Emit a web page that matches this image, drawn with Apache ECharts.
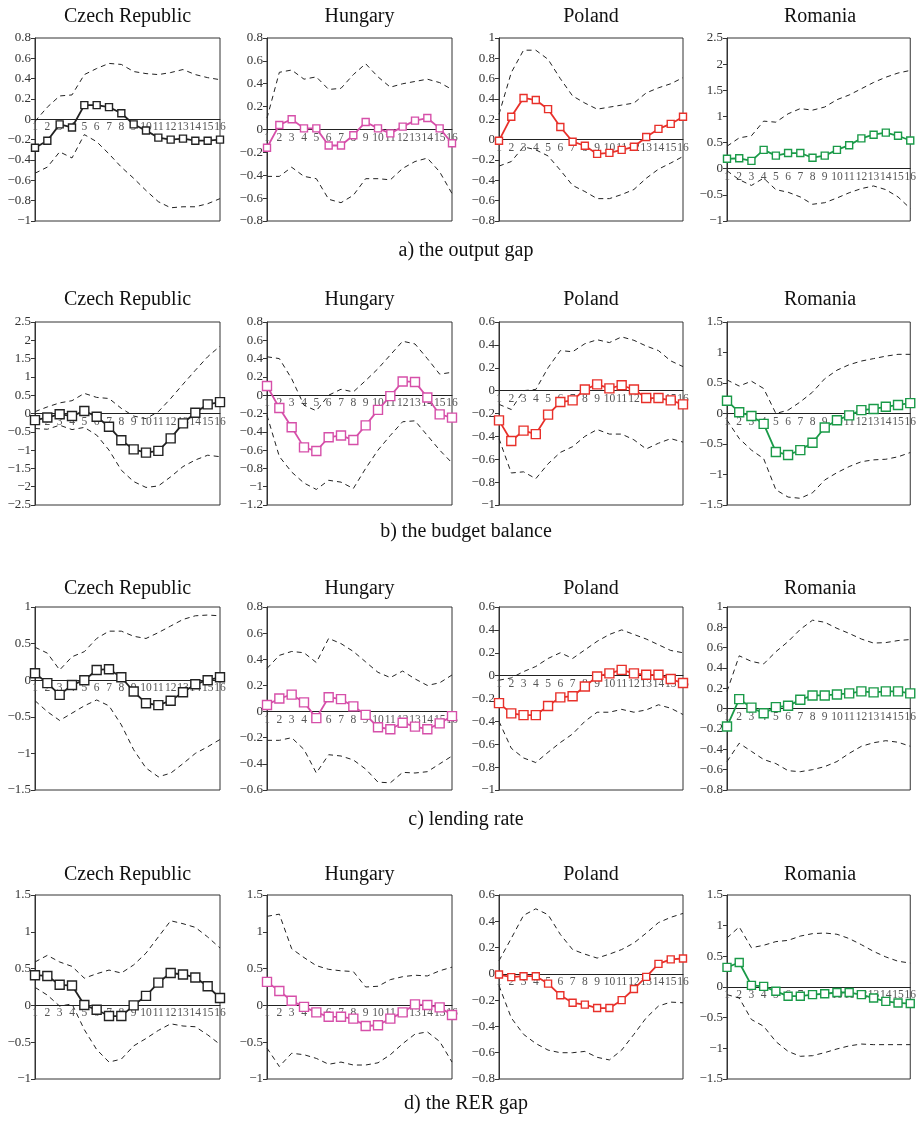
<!DOCTYPE html>
<html><head><meta charset="utf-8">
<script src="https://cdn.jsdelivr.net/npm/echarts@6/dist/echarts.min.js"></script>
<style>html,body{margin:0;padding:0;background:#fff}#c{width:919px;height:1122px}</style>
</head><body><div id="c"></div>
<script>
const periods = ['1','2','3','4','5','6','7','8','9','10','11','12','13','14','15','16'];
const countries = ['Czech Republic','Hungary','Poland','Romania'];
const captions = ['a) the output gap','b) the budget balance','c) lending rate','d) the RER gap'];
const countryColors = ['#222222','#d64fa9','#e8302a','#1a9a48'];

// y-axis ranges [min, max, step] per row (outer) and country (inner)
const yMin = [[-1,-0.8,-0.8,-1],[-2.5,-1.2,-1,-1.5],[-1.5,-0.6,-1,-0.8],[-1,-1,-0.8,-1.5]];
const yMax = [[0.8,0.8,1,2.5],[2.5,0.8,0.6,1.5],[1,0.8,0.6,1],[1.5,1.5,0.6,1.5]];
const yStep = [[0.2,0.2,0.2,0.5],[0.5,0.2,0.2,0.5],[0.5,0.2,0.2,0.2],[0.5,0.5,0.2,0.5]];

// a) output gap
const czOutMid = [-0.28,-0.21,-0.05,-0.08,0.14,0.14,0.12,0.06,-0.05,-0.11,-0.18,-0.2,-0.19,-0.21,-0.21,-0.2];
const czOutUp  = [-0.02,0.12,0.23,0.24,0.44,0.5,0.55,0.54,0.47,0.45,0.44,0.46,0.49,0.44,0.41,0.39];
const czOutLo  = [-0.53,-0.47,-0.32,-0.38,-0.15,-0.22,-0.34,-0.47,-0.58,-0.7,-0.81,-0.87,-0.86,-0.86,-0.83,-0.78];
const huOutMid = [-0.16,0.04,0.09,0.01,0.01,-0.14,-0.14,-0.05,0.066,0.01,-0.034,0.025,0.078,0.1,0.01,-0.12];
const huOutUp  = [0.1,0.5,0.52,0.44,0.46,0.35,0.36,0.48,0.575,0.46,0.37,0.4,0.42,0.44,0.41,0.35];
const huOutLo  = [-0.41,-0.41,-0.33,-0.41,-0.43,-0.61,-0.64,-0.575,-0.43,-0.43,-0.44,-0.34,-0.28,-0.25,-0.37,-0.56];
const plOutMid = [-0.01,0.225,0.41,0.39,0.3,0.125,-0.02,-0.06,-0.14,-0.13,-0.1,-0.07,0.026,0.106,0.155,0.225];
const plOutUp  = [0.25,0.66,0.88,0.88,0.79,0.6,0.43,0.36,0.3,0.32,0.34,0.36,0.46,0.51,0.55,0.61];
const plOutLo  = [-0.26,-0.215,-0.07,-0.1,-0.16,-0.3,-0.45,-0.51,-0.58,-0.58,-0.54,-0.49,-0.38,-0.29,-0.23,-0.165];
const roOutMid = [0.19,0.2,0.15,0.36,0.25,0.3,0.3,0.21,0.25,0.36,0.45,0.58,0.65,0.69,0.63,0.54];
const roOutUp  = [0.43,0.59,0.63,0.91,0.89,1.05,1.15,1.12,1.18,1.32,1.41,1.53,1.65,1.75,1.83,1.88];
const roOutLo  = [-0.04,-0.21,-0.32,-0.18,-0.4,-0.45,-0.54,-0.68,-0.65,-0.56,-0.46,-0.38,-0.33,-0.4,-0.54,-0.76];

// b) budget balance
const czBudMid = [-0.18,-0.11,-0.02,-0.07,0.07,-0.09,-0.36,-0.73,-0.98,-1.07,-1.02,-0.68,-0.27,0.02,0.25,0.31];
const czBudUp  = [0.05,0.18,0.29,0.35,0.55,0.44,0.41,0.14,-0.07,-0.14,0.05,0.41,0.8,1.18,1.55,1.84];
const czBudLo  = [-0.41,-0.43,-0.32,-0.44,-0.38,-0.59,-1.0,-1.55,-1.86,-2.02,-1.98,-1.73,-1.45,-1.27,-1.14,-1.18];
const huBudMid = [0.1,-0.14,-0.35,-0.57,-0.61,-0.46,-0.44,-0.49,-0.33,-0.16,-0.01,0.15,0.145,-0.025,-0.21,-0.245];
const huBudUp  = [0.42,0.4,0.18,-0.11,-0.17,0,0.065,0.036,0.16,0.29,0.44,0.59,0.56,0.4,0.23,0.25];
const huBudLo  = [-0.22,-0.67,-0.84,-0.96,-1.03,-0.93,-0.95,-1.02,-0.8,-0.6,-0.44,-0.29,-0.28,-0.44,-0.6,-0.74];
const plBudMid = [-0.26,-0.44,-0.35,-0.38,-0.21,-0.1,-0.085,0.01,0.055,0.02,0.047,0.01,-0.065,-0.065,-0.085,-0.12];
const plBudUp  = [-0.12,-0.165,0,0.01,0.2,0.35,0.34,0.41,0.445,0.42,0.47,0.44,0.39,0.35,0.26,0.21];
const plBudLo  = [-0.42,-0.72,-0.71,-0.77,-0.64,-0.54,-0.49,-0.4,-0.34,-0.38,-0.38,-0.43,-0.51,-0.46,-0.42,-0.45];
const roBudMid = [0.21,0.02,-0.04,-0.17,-0.63,-0.68,-0.6,-0.48,-0.23,-0.11,-0.03,0.055,0.075,0.11,0.14,0.17];
const roBudUp  = [0.55,0.45,0.53,0.41,0,0.055,0.19,0.35,0.57,0.71,0.8,0.86,0.9,0.94,0.97,0.97];
const roBudLo  = [-0.11,-0.41,-0.6,-0.74,-1.25,-1.37,-1.39,-1.3,-1.09,-0.97,-0.87,-0.79,-0.76,-0.75,-0.71,-0.64];

// c) lending rate
const czLenMid = [0.095,-0.04,-0.2,-0.065,0,0.14,0.15,0.04,-0.155,-0.315,-0.34,-0.28,-0.165,-0.055,0,0.04];
const czLenUp  = [0.45,0.37,0.14,0.32,0.39,0.57,0.67,0.67,0.6,0.57,0.65,0.74,0.83,0.88,0.89,0.88];
const czLenLo  = [-0.28,-0.43,-0.55,-0.45,-0.35,-0.27,-0.35,-0.61,-0.95,-1.2,-1.32,-1.27,-1.14,-1.0,-0.91,-0.81];
const huLenMid = [0.05,0.1,0.13,0.07,-0.05,0.11,0.095,0.04,-0.025,-0.12,-0.135,-0.085,-0.115,-0.135,-0.09,-0.035];
const huLenUp  = [0.33,0.43,0.46,0.45,0.375,0.56,0.52,0.46,0.38,0.3,0.26,0.31,0.25,0.2,0.22,0.28];
const huLenLo  = [-0.22,-0.22,-0.2,-0.29,-0.47,-0.33,-0.34,-0.37,-0.44,-0.54,-0.545,-0.465,-0.47,-0.46,-0.4,-0.34];
const plLenMid = [-0.24,-0.33,-0.345,-0.345,-0.265,-0.19,-0.18,-0.095,-0.007,0.02,0.05,0.02,0.007,0.007,-0.03,-0.065];
const plLenUp  = [-0.04,-0.02,0.035,0.08,0.15,0.2,0.15,0.225,0.3,0.36,0.4,0.36,0.32,0.27,0.22,0.2];
const plLenLo  = [-0.4,-0.635,-0.72,-0.76,-0.67,-0.585,-0.51,-0.4,-0.32,-0.32,-0.295,-0.32,-0.3,-0.255,-0.285,-0.34];
const roLenMid = [-0.175,0.094,0.01,-0.045,0.015,0.028,0.087,0.13,0.13,0.14,0.15,0.17,0.16,0.17,0.17,0.15];
const roLenUp  = [0.17,0.52,0.465,0.44,0.56,0.66,0.78,0.87,0.85,0.79,0.74,0.685,0.645,0.65,0.67,0.68];
const roLenLo  = [-0.52,-0.34,-0.42,-0.5,-0.54,-0.61,-0.62,-0.6,-0.57,-0.52,-0.44,-0.37,-0.335,-0.315,-0.33,-0.37];

// d) RER gap
const czRerMid = [0.41,0.4,0.28,0.27,0.005,-0.06,-0.145,-0.145,0,0.13,0.31,0.44,0.42,0.38,0.26,0.1];
const czRerUp  = [0.59,0.68,0.59,0.53,0.37,0.43,0.48,0.44,0.55,0.71,0.93,1.15,1.11,1.06,0.93,0.78];
const czRerLo  = [0.245,0.14,-0.01,0.02,-0.33,-0.6,-0.77,-0.73,-0.55,-0.45,-0.34,-0.25,-0.28,-0.29,-0.4,-0.53];
const huRerMid = [0.32,0.195,0.063,-0.02,-0.095,-0.155,-0.155,-0.18,-0.28,-0.27,-0.18,-0.095,0.014,0.005,-0.027,-0.13];
const huRerUp  = [1.21,1.24,0.77,0.65,0.54,0.49,0.47,0.46,0.25,0.26,0.35,0.39,0.41,0.4,0.47,0.52];
const huRerLo  = [-0.58,-0.83,-0.65,-0.67,-0.72,-0.8,-0.77,-0.81,-0.81,-0.78,-0.67,-0.52,-0.39,-0.36,-0.49,-0.77];
const plRerMid = [-0.005,-0.025,-0.018,-0.018,-0.074,-0.163,-0.22,-0.234,-0.26,-0.26,-0.2,-0.115,-0.023,0.076,0.11,0.117];
const plRerUp  = [0.1,0.27,0.445,0.495,0.45,0.3,0.185,0.15,0.12,0.15,0.185,0.235,0.31,0.39,0.43,0.46];
const plRerLo  = [-0.09,-0.335,-0.46,-0.53,-0.58,-0.6,-0.6,-0.59,-0.635,-0.655,-0.58,-0.46,-0.335,-0.245,-0.215,-0.22];
const roRerMid = [0.32,0.4,0.027,0.01,-0.07,-0.15,-0.15,-0.125,-0.11,-0.09,-0.09,-0.125,-0.18,-0.235,-0.26,-0.27];
const roRerUp  = [0.8,0.98,0.64,0.68,0.74,0.76,0.83,0.87,0.88,0.86,0.79,0.69,0.58,0.49,0.42,0.39];
const roRerLo  = [-0.125,-0.18,-0.53,-0.64,-0.89,-1.05,-1.13,-1.12,-1.07,-1.01,-0.96,-0.93,-0.94,-0.94,-0.94,-0.94];

const panelData = [
  [[czOutMid,czOutUp,czOutLo],[huOutMid,huOutUp,huOutLo],[plOutMid,plOutUp,plOutLo],[roOutMid,roOutUp,roOutLo]],
  [[czBudMid,czBudUp,czBudLo],[huBudMid,huBudUp,huBudLo],[plBudMid,plBudUp,plBudLo],[roBudMid,roBudUp,roBudLo]],
  [[czLenMid,czLenUp,czLenLo],[huLenMid,huLenUp,huLenLo],[plLenMid,plLenUp,plLenLo],[roLenMid,roLenUp,roLenLo]],
  [[czRerMid,czRerUp,czRerLo],[huRerMid,huRerUp,huRerLo],[plRerMid,plRerUp,plRerLo],[roRerMid,roRerUp,roRerLo]]
];

// layout
const colLeft = [35, 267, 499, 727];
const colWidth = [185, 185, 184, 186];
const rowTop = [38, 322, 607, 895];
const rowHeight = [183, 183, 183, 184];
const titleY = [17, 300, 589, 875];
const captionY = [251, 532, 820, 1104];
const symSize = [[7,7,7,7],[9,9,9,9],[9,9,9,9],[9,9,7,8]];

const FONT = "'Liberation Serif','DejaVu Serif',serif";
function fmt(v){
  const r = Math.round(v*100)/100;
  if (r === 0) return '0';
  return (r < 0 ? '\u2212' : '') + String(Math.abs(r));
}

const grid = [], xAxis = [], yAxis = [], series = [], graphic = [];
let idx = 0;
for (let r = 0; r < 4; r++) {
  for (let c = 0; c < 4; c++) {
    grid.push({left: colLeft[c], top: rowTop[r], width: colWidth[c], height: rowHeight[r],
      show: true, borderColor: '#333', borderWidth: 1, containLabel: false});
    // place the category axis on the zero line of the value axis
    const zeroOffset = -rowHeight[r] * (0 - yMin[r][c]) / (yMax[r][c] - yMin[r][c]);
    xAxis.push({type: 'category', gridIndex: idx, data: periods, boundaryGap: false,
      position: 'bottom', offset: zeroOffset,
      axisLine: {show: true, onZero: false, lineStyle: {color: '#222', width: 1}},
      axisTick: {show: false},
      axisLabel: {interval: 0, fontSize: 11.5, fontFamily: FONT, color: '#555', margin: 2,
        hideOverlap: false, showMinLabel: true, showMaxLabel: true},
      splitLine: {show: false}});
    yAxis.push({type: 'value', gridIndex: idx, min: yMin[r][c], max: yMax[r][c], interval: yStep[r][c],
      axisLine: {show: true, lineStyle: {color: '#333'}},
      axisTick: {show: true, length: 4, lineStyle: {color: '#333'}},
      axisLabel: {fontSize: 13, fontFamily: FONT, color: '#333', margin: 4, formatter: fmt,
        showMinLabel: true, showMaxLabel: true},
      splitLine: {show: false}});
    const [mid, up, lo] = panelData[r][c];
    const dashStyle = {color: '#222', width: 1, type: [5, 4]};
    series.push({type: 'line', xAxisIndex: idx, yAxisIndex: idx, data: up, symbol: 'none',
      lineStyle: dashStyle, silent: true, z: 2});
    series.push({type: 'line', xAxisIndex: idx, yAxisIndex: idx, data: lo, symbol: 'none',
      lineStyle: dashStyle, silent: true, z: 2});
    series.push({type: 'line', xAxisIndex: idx, yAxisIndex: idx, data: mid, symbol: 'rect',
      symbolSize: symSize[r][c], showAllSymbol: true,
      lineStyle: {color: countryColors[c], width: 1.8},
      itemStyle: {color: '#fff', borderColor: countryColors[c], borderWidth: 1.4}, z: 3});
    graphic.push({type: 'text', x: colLeft[c] + colWidth[c] / 2, y: titleY[r],
      style: {text: countries[c], font: "20px " + FONT, fill: '#111',
        textAlign: 'center', textVerticalAlign: 'middle', verticalAlign: 'middle'}});
    idx++;
  }
  graphic.push({type: 'text', x: 466, y: captionY[r],
    style: {text: captions[r], font: "20px " + FONT, fill: '#111',
      textAlign: 'center', textVerticalAlign: 'middle', verticalAlign: 'middle'}});
}

const chart = echarts.init(document.getElementById('c'));
chart.setOption({animation: false, backgroundColor: '#fff', grid, xAxis, yAxis, series, graphic});
</script>
</body></html>
